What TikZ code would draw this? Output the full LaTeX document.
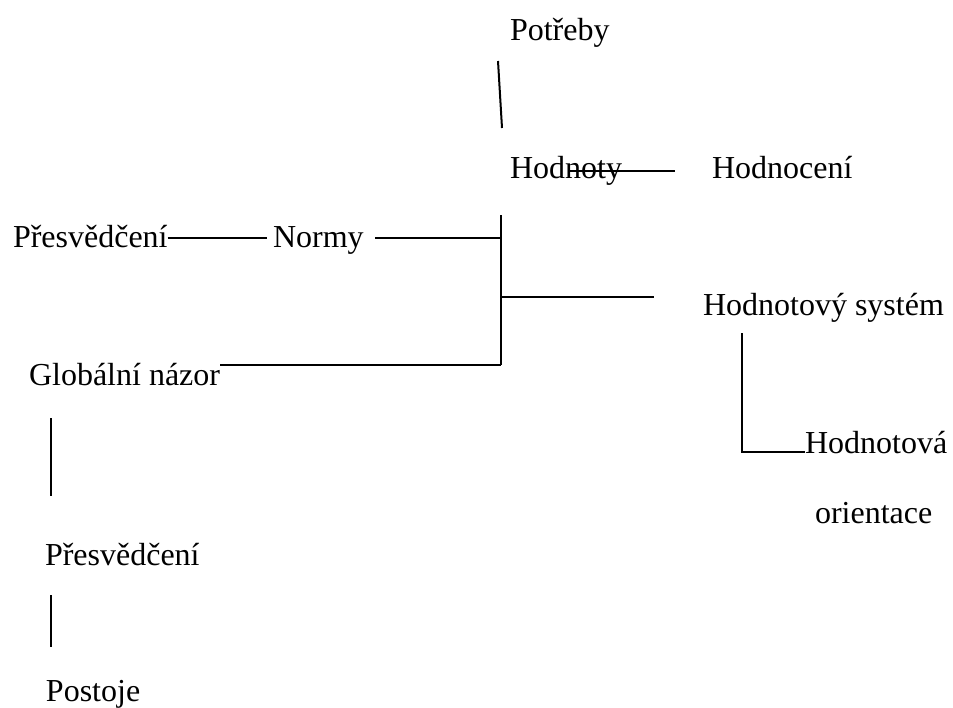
\documentclass[tikz,border=0pt]{standalone}
\usepackage{fontspec}
\setmainfont{LiberationSerif}[Extension=.ttf,UprightFont=*-Regular]
\begin{document}
\begin{tikzpicture}[x=0.5pt,y=-0.5pt,
  lbl/.style={anchor=base west,inner sep=0pt,outer sep=0pt,font=\fontsize{16}{19}\selectfont},
  conn/.style={line width=1pt,black}]
\useasboundingbox (0,0) rectangle (953,707);
% labels
\node[lbl] (potreby) at (510,40) {Potřeby};
\node[lbl] (hodnoty) at (510,178) {Hodnoty};
\node[lbl] (hodnoceni) at (712,178) {Hodnocení};
\node[lbl] (presv1) at (13,247) {Přesvědčení};
\node[lbl] (normy) at (273,247) {Normy};
\node[lbl] (globalni) at (29,385) {Globální názor};
\node[lbl] (system) at (703,315) {Hodnotový systém};
\node[lbl] (hodnotova) at (805,453) {Hodnotová};
\node[lbl] (orientace) at (815,523) {orientace};
\node[lbl] (presv2) at (45,565) {Přesvědčení};
\node[lbl] (postoje) at (46,701) {Postoje};
% junction coordinates
\coordinate (pa) at (498,61);
\coordinate (pb) at (502,128);
\coordinate (ha) at (570,171);
\coordinate (hb) at (675,171);
\coordinate (pn) at (267,238);
\coordinate (nr) at (375,238);
\coordinate (top) at (501,215);
\coordinate (j1) at (501,238);
\coordinate (j2) at (501,297);
\coordinate (bot) at (501,365);
\coordinate (se) at (654,297);
\coordinate (sa) at (742,333);
\coordinate (sb) at (742,452);
\coordinate (l1a) at (51,418);
\coordinate (l1b) at (51,496);
\coordinate (l2a) at (51,595);
\coordinate (l2b) at (51,647);
% connectors
\draw[conn] (pa) -- (pb);
\draw[conn] (ha) -- (hb);
\draw[conn] (presv1.east |- pn) -- (pn);
\draw[conn] (nr) -- (j1);
\draw[conn] (top) -- (bot);
\draw[conn] (j2) -- (se);
\draw[conn] (globalni.east |- bot) -- (bot);
\draw[conn] (sa) -- (sb) -- (hodnotova.west |- sb);
\draw[conn] (l1a) -- (l1b);
\draw[conn] (l2a) -- (l2b);
\end{tikzpicture}
\end{document}
